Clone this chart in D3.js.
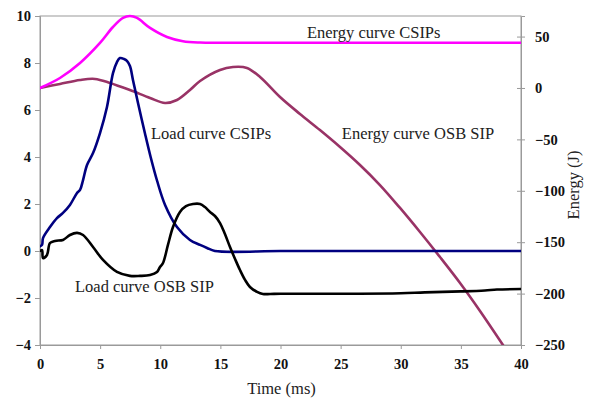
<!DOCTYPE html>
<html>
<head>
<meta charset="utf-8">
<script src="https://cdn.jsdelivr.net/npm/d3@7"></script>
<style>
  html, body { margin: 0; padding: 0; background: #fff; }
  svg { display: block; }
</style>
</head>
<body>
<svg id="chart" width="592" height="399"></svg>
<script>
const SERIF = '"Liberation Serif", "Times New Roman", Times, serif';

// Time axis (ms)
const timeTicks = [0, 5, 10, 15, 20, 25, 30, 35, 40];
// Load axis (left) and energy axis (right)
const loadTicks = [-4, -2, 0, 2, 4, 6, 8, 10];
const energyTicks = [-250, -200, -150, -100, -50, 0, 50];

// Load curve CSIPs: [time ms, load]
const loadCSIPs = [
  [0, 0.2], [0.17, 0.26], [0.25, 0.55], [0.83, 1.02], [1.41, 1.4], [1.91, 1.62],
  [2.49, 1.96], [3.08, 2.47], [3.33, 2.6], [3.58, 3.02], [3.91, 3.66], [4.41, 4.17],
  [4.99, 5.02], [5.57, 6.13], [6.07, 7.57], [6.4, 8.04], [6.65, 8.21], [6.99, 8.17],
  [7.23, 8.09], [7.48, 7.87], [7.73, 7.28], [8.15, 6.3], [8.73, 5.0], [9.2, 4.0],
  [9.73, 3.0], [10.4, 1.96], [11.39, 1.02], [12.47, 0.47], [13.31, 0.26], [13.89, 0.13],
  [14.55, 0.0], [20, 0.0], [25, 0.0], [30, 0.0], [35, 0.0], [40, 0.0]
];

// Load curve OSB SIP: [time ms, load]
const loadOSB = [
  [0, 0.0], [0.17, 0.04], [0.25, -0.3], [0.58, -0.17], [0.83, 0.34], [1.25, 0.43],
  [1.91, 0.47], [2.49, 0.68], [3.08, 0.77], [3.58, 0.68], [4.41, 0.17], [5.24, -0.38],
  [6.4, -0.89], [7.48, -1.06], [8.32, -1.06], [9.15, -1.02], [9.73, -0.89], [9.98, -0.68],
  [10.23, -0.51], [10.64, 0.26], [11.06, 1.02], [11.64, 1.66], [12.14, 1.91], [12.72, 2.0],
  [13.31, 2.0], [13.72, 1.87], [14.14, 1.66], [14.55, 1.49], [14.97, 1.19], [15.38, 0.72],
  [15.8, 0.17], [16.22, -0.34], [16.63, -0.81], [17.05, -1.23], [17.46, -1.53], [18.05, -1.74],
  [18.54, -1.83], [19.13, -1.83], [20, -1.82], [25, -1.82], [30, -1.8], [32, -1.76],
  [35, -1.72], [37, -1.68], [38, -1.64], [40, -1.62]
];

// Energy curve CSIPs: [time ms, energy J]
const energyCSIPs = [
  [0, 0], [1.66, 9.7], [3.33, 24.3], [4.99, 43.8], [6.07, 59.3], [6.9, 68.1],
  [7.48, 70], [8.07, 68.1], [9.15, 58.4], [10.56, 49.6], [11.89, 45.5], [13.31, 44.2],
  [15, 44], [20, 44], [25, 44], [30, 44], [35, 44], [40, 44]
];

// Energy curve OSB SIP: [time ms, energy J]
const energyOSB = [
  [0, 0], [1.66, 3.9], [3.33, 7.8], [4.57, 8.8], [5.82, 4.9], [7.48, -2.0],
  [9.15, -9.7], [10.4, -14.6], [11.39, -11.7], [12.47, -2.0], [13.31, 6.8], [14.97, 17.5],
  [16.05, 20.4], [17.21, 19.5], [18.3, 10.7], [19.96, -8.8], [21.62, -25.3], [23.28, -40.9],
  [24.95, -57.4], [26.61, -74.9], [28.27, -94.4], [29.94, -116.7], [31.6, -140.1],
  [33.26, -164.4], [34.93, -189.7], [36.59, -216.9], [38.5, -250]
];

const svg = d3.select("#chart");
const plot = { left: 40, right: 521, top: 16, bottom: 345 };

const x = d3.scaleLinear().domain([0, 40]).range([plot.left, plot.right]);
const yLoad = d3.scaleLinear().domain([-4, 10]).range([plot.bottom, plot.top]);
const yEnergy = d3.scaleLinear().domain([-250, 70]).range([plot.bottom, plot.top]);

svg.append("defs").append("clipPath").attr("id", "plot-clip")
  .append("rect")
  .attr("x", plot.left).attr("y", plot.top - 2)
  .attr("width", plot.right - plot.left).attr("height", plot.bottom - plot.top + 2);

// Plot frame
svg.append("rect")
  .attr("x", plot.left).attr("y", plot.top)
  .attr("width", plot.right - plot.left).attr("height", plot.bottom - plot.top)
  .attr("fill", "none").attr("stroke", "#9a9a9a").attr("stroke-width", 1);

function styleAxis(g) {
  g.attr("font-family", SERIF).attr("font-size", 14.5).attr("font-weight", "bold");
  g.select(".domain").attr("stroke", "#9a9a9a");
  g.selectAll(".tick line").attr("stroke", "#9a9a9a");
  g.selectAll(".tick text").attr("fill", "#111")
    .style("font-family", SERIF).style("font-weight", "bold").style("font-size", "14.5px");
}

// Bottom axis
svg.append("g")
  .attr("transform", `translate(0,${plot.bottom})`)
  .call(d3.axisBottom(x).tickValues(timeTicks).tickSize(4).tickPadding(10))
  .call(styleAxis);

// Left axis
svg.append("g")
  .attr("transform", `translate(${plot.left},0)`)
  .call(d3.axisLeft(yLoad).tickValues(loadTicks).tickSize(5).tickPadding(4))
  .call(styleAxis);

// Right axis: ticks cross the axis line
const rightAxis = svg.append("g")
  .attr("transform", `translate(${plot.right},0)`)
  .call(d3.axisRight(yEnergy).tickValues(energyTicks).tickSize(4).tickPadding(10)
    .tickFormat(d3.format("d")))
  .call(styleAxis);
rightAxis.selectAll(".tick line").attr("x1", -4);

const curve = d3.curveCatmullRom.alpha(0.5);
const lineLoad = d3.line().x(d => x(d[0])).y(d => yLoad(d[1])).curve(curve);
const lineEnergy = d3.line().x(d => x(d[0])).y(d => yEnergy(d[1])).curve(curve);

const lines = svg.append("g").attr("clip-path", "url(#plot-clip)")
  .attr("fill", "none").attr("stroke-linejoin", "round").attr("stroke-linecap", "round");

lines.append("path").datum(energyOSB).attr("d", lineEnergy)
  .attr("stroke", "#993366").attr("stroke-width", 2.6);
lines.append("path").datum(energyCSIPs).attr("d", lineEnergy)
  .attr("stroke", "#ff00ff").attr("stroke-width", 2.6);
lines.append("path").datum(loadCSIPs).attr("d", lineLoad)
  .attr("stroke", "#000080").attr("stroke-width", 2.6);
lines.append("path").datum(loadOSB).attr("d", lineLoad)
  .attr("stroke", "#000000").attr("stroke-width", 2.6);

// Curve annotations
const notes = [
  { text: "Energy curve CSIPs", t: 22.2, e: 49, axis: "energy" },
  { text: "Load curve CSIPs", t: 9.23, v: 4.77, axis: "load" },
  { text: "Energy curve OSB SIP", t: 25.1, v: 4.77, axis: "load" },
  { text: "Load curve OSB SIP", t: 2.91, v: -1.74, axis: "load" }
];
svg.selectAll("text.note").data(notes).join("text")
  .attr("class", "note")
  .attr("x", d => x(d.t))
  .attr("y", d => d.axis === "energy" ? yEnergy(d.e) : yLoad(d.v))
  .style("font-family", SERIF).style("font-size", "16.5px").attr("fill", "#222")
  .text(d => d.text);

// Axis titles
svg.append("text")
  .attr("x", (plot.left + plot.right) / 2 + 1).attr("y", 394)
  .attr("text-anchor", "middle")
  .style("font-family", SERIF).style("font-size", "16.5px").attr("fill", "#222")
  .text("Time (ms)");

svg.append("text")
  .attr("transform", "translate(579,185) rotate(-90)")
  .attr("text-anchor", "middle")
  .style("font-family", SERIF).style("font-size", "16.5px").attr("fill", "#222")
  .text("Energy (J)");
</script>
</body>
</html>
